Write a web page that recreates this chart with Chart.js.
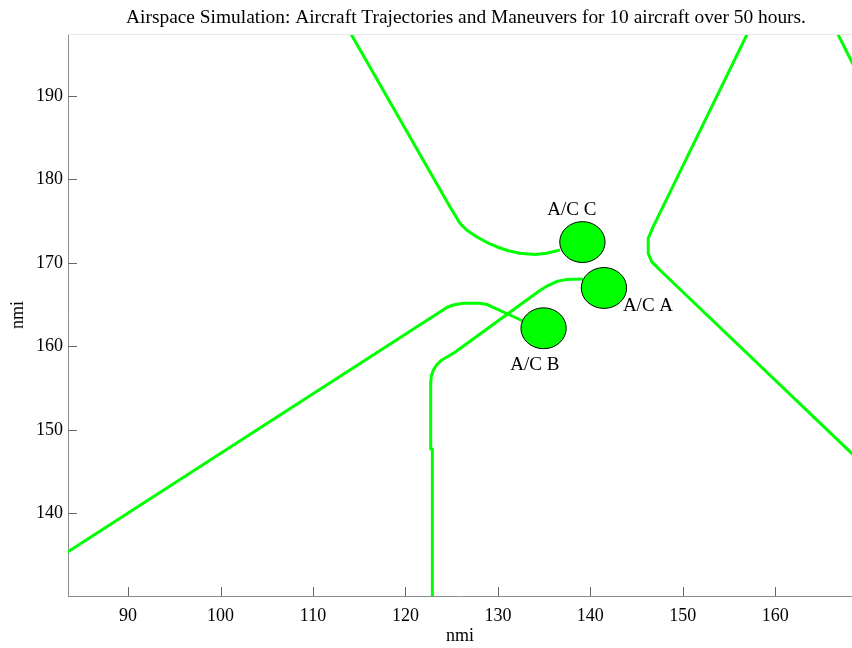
<!DOCTYPE html>
<html>
<head>
<meta charset="utf-8">
<title>Airspace Simulation</title>
<script src="https://cdn.jsdelivr.net/npm/chart.js@4.4.0/dist/chart.umd.min.js"></script>
<style>
  html, body { margin: 0; padding: 0; background: #fff; }
</style>
</head>
<body>
<canvas id="airspace" width="852" height="648"></canvas>
<script>
// Aircraft tracks, nmi
const trackAX = [122.91, 122.91, 122.73, 122.73, 122.80, 123.02, 123.40, 123.94, 124.59, 125.35,
                 134.54, 135.41, 136.35, 137.36, 139.19];
const trackAY = [129.50, 147.70, 147.70, 155.58, 156.45, 157.17, 157.83, 158.37, 158.79, 159.29,
                 166.70, 167.29, 167.77, 168.00, 168.07];

const trackBX = [82.61, 123.72, 124.48, 125.16, 126.24, 128.05, 128.81, 129.49, 131.30, 132.81];
const trackBY = [134.76, 164.12, 164.66, 164.96, 165.16, 165.16, 165.02, 164.68, 163.76, 162.98];

const trackCX = [114.05, 124.81, 125.35, 125.89, 126.61, 127.69, 128.78, 129.86, 131.11, 132.38,
                 134.00, 135.27, 136.71];
const trackCY = [197.55, 176.74, 175.74, 174.75, 173.94, 173.14, 172.47, 171.94, 171.46, 171.15,
                 171.00, 171.15, 171.55];

const trackDX = [157.07, 146.80, 146.26, 146.26, 146.63, 147.52, 169.16];
const trackDY = [197.67, 174.34, 172.95, 171.15, 170.15, 169.15, 146.24];

const trackEX = [166.60, 168.95];
const trackEY = [197.79, 192.60];

// Current aircraft positions and protection radius
const aircraftNames = ['A/C A', 'A/C B', 'A/C C'];
const aircraftX = [141.47, 134.94, 139.14];
const aircraftY = [167.0, 162.17, 172.5];
const aircraftR = 2.45;

// Label anchors (text centre)
const labelX = [146.23, 134.0, 138.0];
const labelY = [164.84, 157.77, 176.34];

const xTicks = [90, 100, 110, 120, 130, 140, 150, 160];
const yTicks = [140, 150, 160, 170, 180, 190];

const titleText = 'Airspace Simulation: Aircraft Trajectories and Maneuvers for 10 aircraft over 50 hours.';
const serif = "'Liberation Serif', 'Times New Roman', serif";
const trackColor = '#00ff00';

function toPoints(xs, ys) {
    return xs.map((x, i) => ({ x: x, y: ys[i] }));
}

function track(xs, ys) {
    return {
        data: toPoints(xs, ys),
        showLine: true,
        borderColor: trackColor,
        borderWidth: 3,
        borderJoinStyle: 'round',
        pointRadius: 0,
        tension: 0,
        clip: 0
    };
}

// Tick marks pointing into the plot, plus the faint top edge
const innerTicks = {
    id: 'innerTicks',
    afterDraw(chart) {
        const { ctx, chartArea: area, scales } = chart;
        ctx.save();
        ctx.strokeStyle = '#e6e6e6';
        ctx.lineWidth = 1;
        ctx.beginPath();
        ctx.moveTo(area.left, area.top + 0.5);
        ctx.lineTo(area.right, area.top + 0.5);
        ctx.stroke();

        ctx.strokeStyle = '#666';
        ctx.beginPath();
        xTicks.forEach(v => {
            const px = Math.round(scales.x.getPixelForValue(v)) + 0.5;
            ctx.moveTo(px, area.bottom);
            ctx.lineTo(px, area.bottom - 9);
        });
        yTicks.forEach(v => {
            const py = Math.round(scales.y.getPixelForValue(v)) + 0.5;
            ctx.moveTo(area.left, py);
            ctx.lineTo(area.left + 9, py);
        });
        ctx.stroke();
        ctx.restore();
    }
};

// Aircraft discs and their names
const aircraftMarks = {
    id: 'aircraftMarks',
    afterDatasetsDraw(chart) {
        const { ctx, scales } = chart;
        const sx = scales.x, sy = scales.y;
        ctx.save();
        aircraftX.forEach((x, i) => {
            const cx = sx.getPixelForValue(x);
            const cy = sy.getPixelForValue(aircraftY[i]);
            const rx = Math.abs(sx.getPixelForValue(x + aircraftR) - cx);
            const ry = Math.abs(sy.getPixelForValue(aircraftY[i] + aircraftR) - cy);
            ctx.beginPath();
            ctx.ellipse(cx, cy, rx, ry, 0, 0, Math.PI * 2);
            ctx.fillStyle = trackColor;
            ctx.fill();
            ctx.lineWidth = 1;
            ctx.strokeStyle = '#000';
            ctx.stroke();
        });
        ctx.fillStyle = '#000';
        ctx.font = '19px ' + serif;
        ctx.textAlign = 'center';
        ctx.textBaseline = 'middle';
        aircraftNames.forEach((name, i) => {
            ctx.fillText(name, sx.getPixelForValue(labelX[i]), sy.getPixelForValue(labelY[i]));
        });
        ctx.restore();
    }
};

// Title centred over the axes
const plotTitle = {
    id: 'plotTitle',
    afterDraw(chart) {
        const { ctx, chartArea: area } = chart;
        ctx.save();
        ctx.fillStyle = '#000';
        ctx.font = '19.4px ' + serif;
        ctx.textAlign = 'center';
        ctx.textBaseline = 'middle';
        ctx.fillText(titleText, (area.left + area.right) / 2 + 6, 18);
        ctx.restore();
    }
};

Chart.defaults.font.family = serif;
Chart.defaults.font.size = 18;
Chart.defaults.color = '#000';

new Chart(document.getElementById('airspace'), {
    type: 'scatter',
    data: {
        datasets: [
            track(trackAX, trackAY),
            track(trackBX, trackBY),
            track(trackCX, trackCY),
            track(trackDX, trackDY),
            track(trackEX, trackEY)
        ]
    },
    options: {
        responsive: false,
        animation: false,
        layout: { padding: { top: 34, right: 0, bottom: 0, left: 0 } },
        plugins: {
            legend: { display: false },
            tooltip: { enabled: false }
        },
        scales: {
            x: {
                type: 'linear',
                min: 83.5,
                max: 168.3,
                afterBuildTicks: s => { s.ticks = xTicks.map(v => ({ value: v })); },
                afterFit: s => { s.height = 52; },
                grid: { display: false, drawTicks: false },
                border: { display: true, color: '#8c8c8c', width: 1 },
                ticks: { padding: 9, maxRotation: 0, autoSkip: false },
                title: { display: true, text: 'nmi', padding: { top: 0, bottom: 1 } }
            },
            y: {
                type: 'linear',
                min: 130.09,
                max: 197.43,
                afterBuildTicks: s => { s.ticks = yTicks.map(v => ({ value: v })); },
                afterFit: s => { s.width = 68; },
                grid: { display: false, drawTicks: false },
                border: { display: true, color: '#8c8c8c', width: 1 },
                ticks: { padding: 5, autoSkip: false },
                title: { display: true, text: 'nmi', padding: { top: 7.5, bottom: 0 } }
            }
        }
    },
    plugins: [innerTicks, aircraftMarks, plotTitle]
});
</script>
</body>
</html>
